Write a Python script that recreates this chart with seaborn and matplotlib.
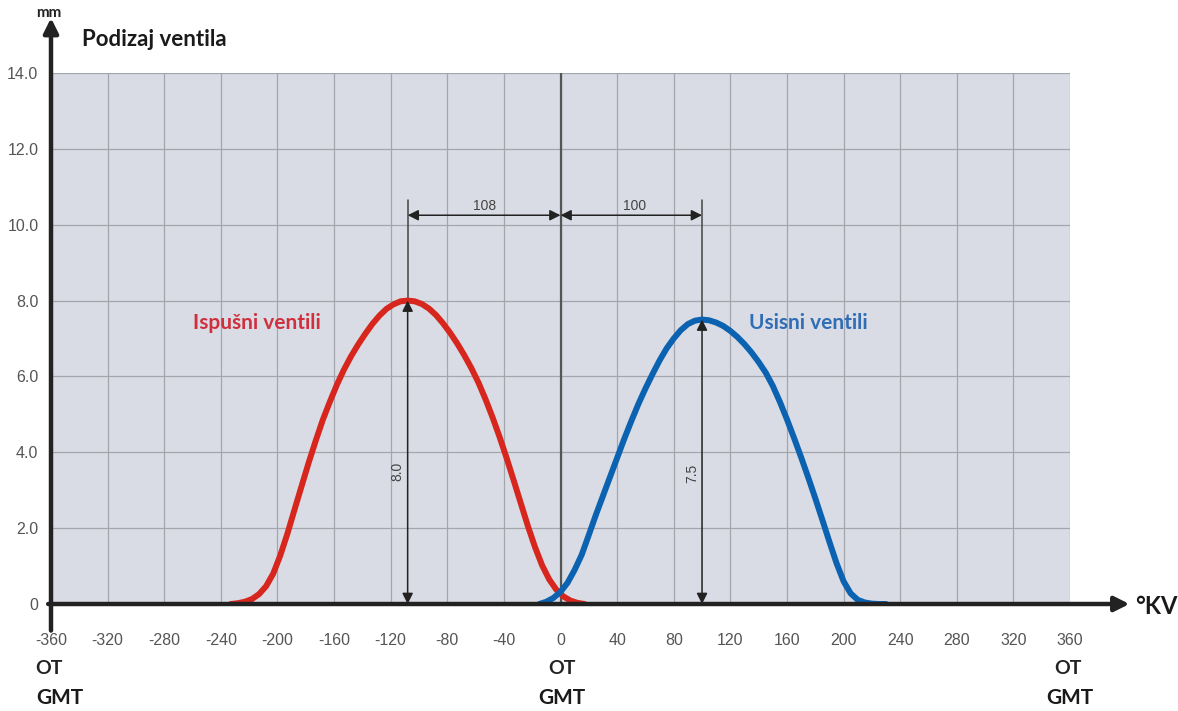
import pandas as pd
import matplotlib
matplotlib.use("Agg")
import matplotlib.pyplot as plt
import seaborn as sns

exhaust_deg = list(range(-233, 18, 5))
exhaust_lift = [0.0, 0.02, 0.06, 0.13, 0.26, 0.47, 0.8, 1.28, 1.85, 2.48, 3.1, 3.72, 4.3,
                4.85, 5.33, 5.78, 6.18, 6.53, 6.84, 7.12, 7.38, 7.6, 7.78, 7.9, 7.98, 8.0,
                7.98, 7.91, 7.79, 7.62, 7.4, 7.15, 6.87, 6.56, 6.22, 5.84, 5.4, 4.92, 4.4,
                3.84, 3.25, 2.65, 2.05, 1.5, 1.02, 0.65, 0.38, 0.2, 0.09, 0.03, 0.0]
intake_deg = list(range(-15, 231, 5))
intake_lift = [0.0, 0.06, 0.16, 0.32, 0.56, 0.9, 1.3, 1.82, 2.35, 2.85, 3.35, 3.85, 4.35,
               4.82, 5.27, 5.68, 6.06, 6.42, 6.74, 7.0, 7.22, 7.38, 7.47, 7.5,
               7.48, 7.42, 7.33, 7.2, 7.04, 6.85, 6.63, 6.38, 6.1, 5.75, 5.33, 4.87, 4.38,
               3.87, 3.34, 2.79, 2.22, 1.64, 1.08, 0.6, 0.28, 0.11, 0.04, 0.01, 0.0, 0.0]

x_ticks = list(range(-360, 361, 40))
y_ticks = [0, 2, 4, 6, 8, 10, 12, 14]
y_tick_labels = ["0", "2.0", "4.0", "6.0", "8.0", "10.0", "12.0", "14.0"]

exh_peak, exh_max = -108, 8.0
int_peak, int_max = 100, 7.5

df = pd.concat([
    pd.DataFrame({"deg": exhaust_deg, "lift": exhaust_lift, "valve": "Ispušni ventili"}),
    pd.DataFrame({"deg": intake_deg, "lift": intake_lift, "valve": "Usisni ventili"}),
])

sns.set_style("white")
plt.rcParams["font.family"] = ["Lato", "DejaVu Sans"]
tick_font = ["Liberation Sans Narrow", "Liberation Sans", "DejaVu Sans"]

W, H = 1178, 711
fig = plt.figure(figsize=(W / 100, H / 100), dpi=100)
ax = fig.add_axes([51 / W, (H - 604) / H, (1070 - 51) / W, (604 - 73) / H])
ax.set_facecolor("#d9dce4")

ax.set_xlim(-360, 360)
ax.set_ylim(0, 14)
ax.set_xticks(x_ticks)
ax.set_yticks(y_ticks)
ax.set_xticklabels([str(t) for t in x_ticks], family=tick_font, fontsize=11.5, color="#555555")
ax.set_yticklabels(y_tick_labels, family=tick_font, fontsize=11.5, color="#555555")
ax.tick_params(axis="x", length=10, width=1, color="#999999", pad=11)
ax.tick_params(axis="y", length=7, width=1, color="#999999", pad=2)
ax.grid(True, color="#a3a6ad", linewidth=0.9)
ax.set_axisbelow(True)
for s in ax.spines.values():
    s.set_visible(False)

# zero line
ax.axvline(0, color="#555555", linewidth=1.6, zorder=1)

sns.lineplot(data=df, x="deg", y="lift", hue="valve",
             palette={"Ispušni ventili": "#d7261e", "Usisni ventili": "#0b62b0"},
             linewidth=4.3, legend=False, ax=ax, sort=False, zorder=3)
for ln in ax.get_lines():
    ln.set_solid_joinstyle("round")
    ln.set_solid_capstyle("round")
ax.set_xlabel("")
ax.set_ylabel("")

# axis arrows
ax.annotate("", xy=(-360, 15.45), xytext=(-360, -0.7),
            arrowprops=dict(arrowstyle="-|>", lw=3.2, color="#222222", mutation_scale=22,
                            shrinkA=0, shrinkB=0), annotation_clip=False)
ax.annotate("", xy=(402, 0), xytext=(-362, 0),
            arrowprops=dict(arrowstyle="-|>", lw=3.2, color="#222222", mutation_scale=22,
                            shrinkA=0, shrinkB=0), annotation_clip=False)

# dimension lines
dim = dict(arrowstyle="<|-|>", lw=1.1, color="#222222", mutation_scale=16, shrinkA=0, shrinkB=0)
ax.annotate("", xy=(exh_peak, 10.25), xytext=(0, 10.25), arrowprops=dim)
ax.annotate("", xy=(0, 10.25), xytext=(int_peak, 10.25), arrowprops=dim)
ax.plot([exh_peak, exh_peak], [8.0, 10.65], color="#444444", lw=1.1)
ax.plot([int_peak, int_peak], [7.5, 10.65], color="#444444", lw=1.1)
ax.annotate("", xy=(exh_peak, exh_max), xytext=(exh_peak, 0), arrowprops=dim, zorder=4)
ax.annotate("", xy=(int_peak, int_max), xytext=(int_peak, 0), arrowprops=dim, zorder=4)
ax.text(-54, 10.5, "108", ha="center", va="center", fontsize=10, color="#444444", family=tick_font)
ax.text(52, 10.5, "100", ha="center", va="center", fontsize=10, color="#444444", family=tick_font)
ax.text(-115, 3.5, "8.0", rotation=90, ha="center", va="center", fontsize=10,
        color="#444444", family=tick_font)
ax.text(93, 3.45, "7.5", rotation=90, ha="center", va="center", fontsize=10,
        color="#444444", family=tick_font)

# curve labels
ax.text(-260, 7.4, "Ispušni ventili", ha="left", va="center", fontsize=15,
        fontweight="bold", color="#d0303e")
ax.text(133, 7.4, "Usisni ventili", ha="left", va="center", fontsize=15,
        fontweight="bold", color="#2f6db5")

# figure texts
def ftext(px, py, s, **kw):
    fig.text(px / W, 1 - py / H, s, **kw)

ftext(36, 13, "mm", fontsize=11, fontweight="bold", ha="left", va="center", color="#222222")
ftext(82, 40, "Podizaj ventila", fontsize=16, fontweight="bold", ha="left", va="center", color="#1a1a1a")
ftext(1135, 606, "°KV", fontsize=17, fontweight="bold", ha="left", va="center", color="#1a1a1a")
for px in (49, 562, 1068):
    ftext(px, 668, "OT", fontsize=14, fontweight="bold", ha="center", va="center", color="#222222")
for px in (60, 562, 1070):
    ftext(px, 698, "GMT", fontsize=15, fontweight="bold", ha="center", va="center", color="#1a1a1a")

fig.savefig("out.png", dpi=100, facecolor="white")
